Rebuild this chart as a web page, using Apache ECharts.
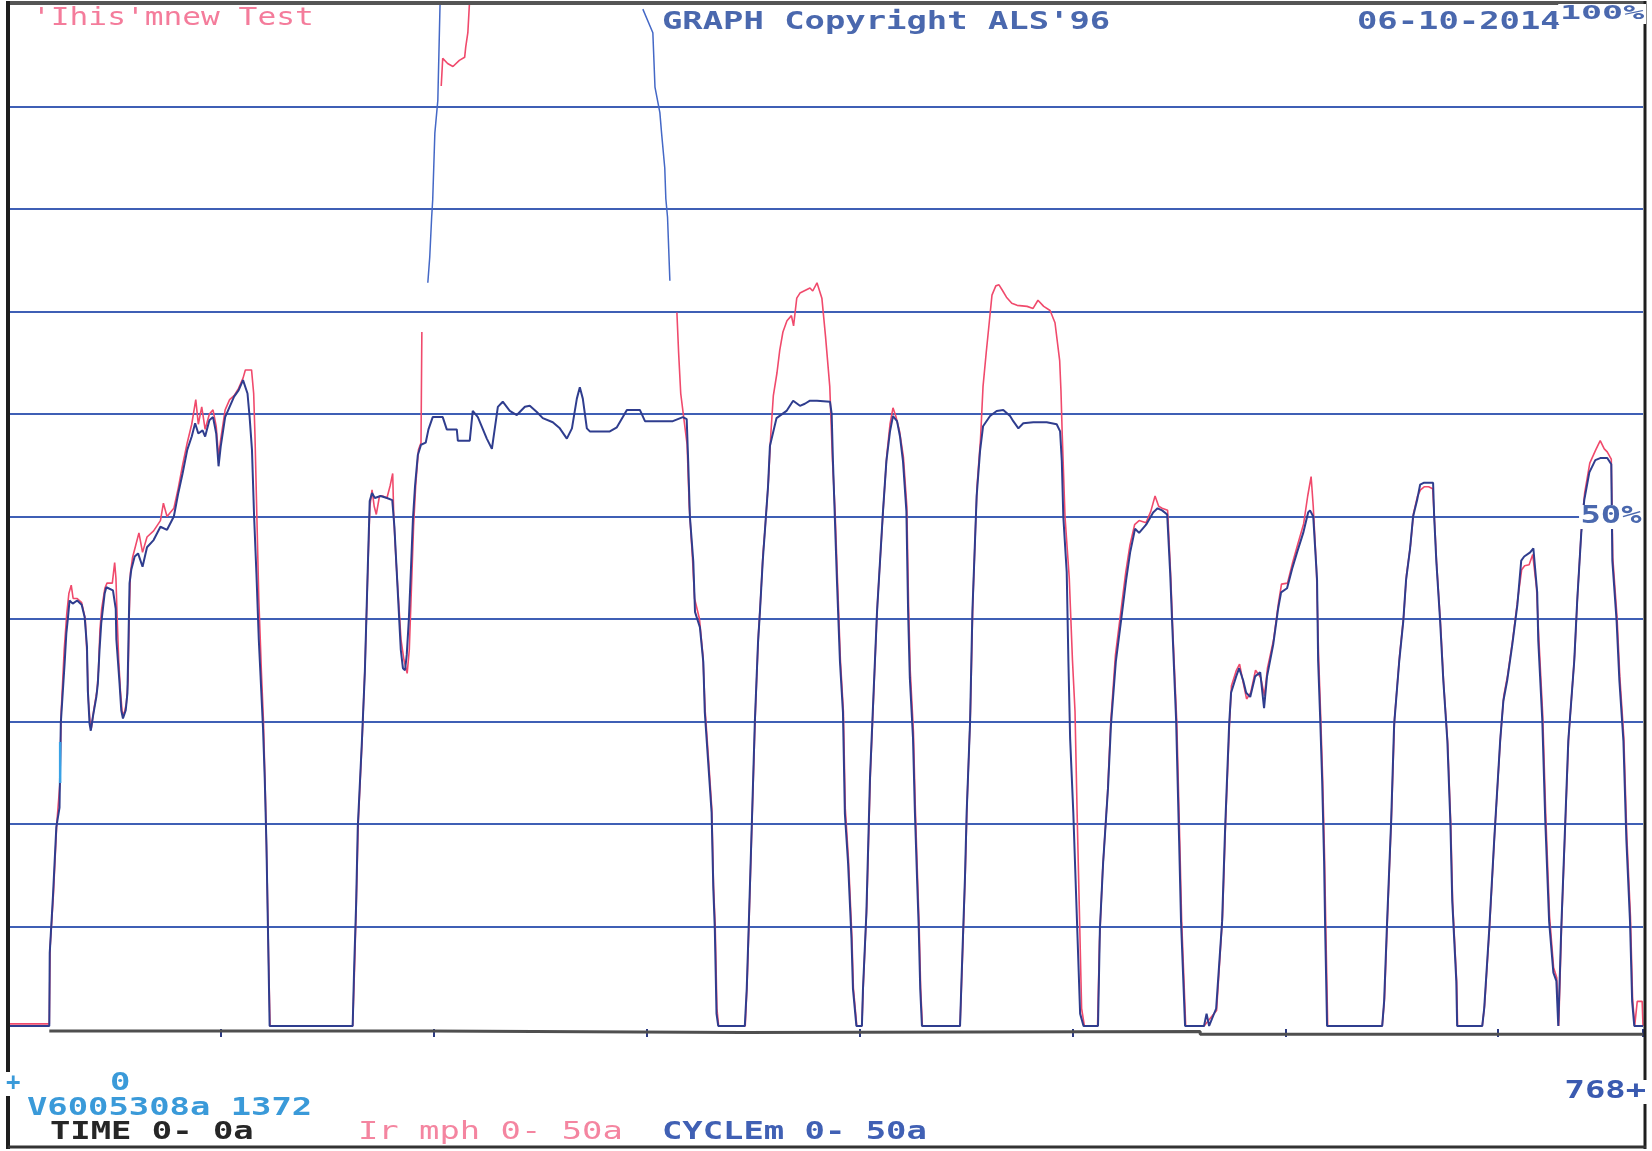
<!DOCTYPE html>
<html>
<head>
<meta charset="utf-8">
<title>GRAPH Copyright ALS'96</title>
<script src="https://cdn.jsdelivr.net/npm/echarts@6/dist/echarts.min.js"></script>
<style>
  html, body { margin: 0; padding: 0; background: #ffffff; }
  #chart { width: 1652px; height: 1151px; }
</style>
</head>
<body>
<div id="chart"></div>
<script>
// Axis ranges: time samples 0..768, channels in % of full scale
const xRange = [0, 768];
const xStep = 100;
const yRange = [0, 100];
const yStep = 10;

// CYCLEm 0- 50a  (navy trace), [sample, %]
const cycleBlue = [
  [0,0.3],[19.4,0.3],[19.6,7.4],[21.1,12.9],[22.7,19.7],[24.2,21.6],[24.8,29.8],[25,30.5],[26.6,35.7],[27.4,38.6],
  [28.2,40.2],[28.9,41.8],[30.4,41.5],[32.5,41.8],[34.6,41.4],[36,40.2],[37.1,37.3],[37.5,33],[38.3,29.8],[38.9,29.1],
  [39.9,30.5],[41.5,32.4],[42.2,33.7],[43,37],[43.8,39.6],[45.4,42.5],[46.2,43.1],[49.3,42.8],[50.6,41],[50.9,38],
  [51.6,36],[52.4,33.7],[53.2,31.1],[54,30.3],[55.3,31.1],[56.1,32.8],[56.5,37],[57.1,43.5],[57.9,44.8],[59.5,46.1],
  [61.1,46.4],[63.2,45.1],[65.3,47],[68.4,47.7],[71.6,49],[74.7,48.7],[77.9,50],[80,52.3],[82,54.2],[84.2,56.5],
  [86.3,57.8],[87.9,59.1],[89.4,58.1],[91.4,58.4],[92.6,57.8],[94.6,59.4],[96.3,59.7],[97.8,58.1],[98.9,54.9],[99.9,56.8],
  [102,59.7],[104.1,60.7],[106.2,61.7],[108.3,62.3],[110.4,63.3],[112.5,62],[113.5,59.7],[114.6,56.5],[115.6,50],[116.7,44.4],
  [117.8,38],[118.5,35],[119.8,29.3],[120.6,24.4],[121.4,17.9],[122.1,9.8],[122.9,0.3],
  [161.9,0.3],[162.6,6],[163.5,12],[164.3,19.7],[166.2,27.9],[167.6,34.7],[169,45],[169.9,51.5],[171,52.3],[172.3,51.8],
  [175,52],[178,51.8],[180.5,51.6],[181.5,49],[182.5,45],[183.5,41],[184.5,37],[185.5,35.2],[186.5,35],[187.3,36.5],
  [188.3,40],[189.3,45],[190.2,49.7],[191.2,53],[192.5,56],[194,57],[196.2,57.2],[197.5,58.5],[199.5,59.7],[204.2,59.7],
  [206.1,58.5],[210.8,58.5],[211.3,57.4],[216.9,57.4],[218.3,60.3],[220.7,59.7],[224.9,57.6],[227.3,56.6],[230.1,60.7],[232.4,61.2],
  [235.7,60.3],[239,59.9],[242.8,60.7],[245.1,60.8],[248.4,60.2],[251.2,59.6],[255.9,59.2],[259.2,58.6],[262.5,57.6],[264.9,58.6],
  [267.2,61.5],[268.6,62.6],[270,61.5],[271.9,58.6],[273.3,58.3],[282.7,58.3],[286,58.7],[288.8,59.7],[290.7,60.4],[296.8,60.4],
  [299.2,59.3],[312.3,59.3],[317,59.7],[318.8,59.5],[319.5,55.4],[320.3,50],[321.9,45.6],[322.7,40.7],[325,39.2],[326.6,35.8],
  [327.3,30.9],[328.9,26],[330.5,21.1],[331.3,13.7],[332,9.8],[332.8,1.5],[333.6,0.3],
  [346.1,0.3],[347,3.9],[347.9,9.8],[349.4,20.1],[350.8,29.9],[352.3,37.7],[353.2,40.7],[354.5,45.6],[355.5,48.5],[357,52.9],
  [357.9,56.9],[359.5,58.3],[361,59.6],[365.7,60.3],[368.8,61.3],[372,60.8],[374.3,61],[376.7,61.3],[380,61.3],[386.1,61.2],
  [386.9,60],[387.5,55.4],[389.4,43.6],[390.8,35.8],[392.2,30.9],[393.1,21],[394.6,16.2],[396.2,8.8],[396.9,3.9],[398.5,0.3],
  [401.1,0.3],[401.6,3.9],[403.2,11.3],[404.9,24.5],[406.5,32.4],[408.2,40.7],[409.6,45.6],[411,50.5],[412.6,55.4],[414.3,58.3],
  [415.7,59.8],[417.6,59.3],[419,57.8],[420.4,55.4],[422,50.5],[422.8,40.7],[423.6,34.3],[425.1,28.4],[426,21.1],[427,14.7],
  [427.8,9.8],[428.5,3.9],[429.3,0.3],
  [447.2,0.3],[447.9,4.9],[449.5,14.7],[450.3,21.1],[451.9,29.9],[453,40.7],[454.2,47.5],[455,52],[456.6,56.4],[458,58.8],
  [461.3,59.8],[464.4,60.3],[467.5,60.4],[470.7,59.8],[472.2,59.3],[474.6,58.6],[476.9,59.1],[481.6,59.2],[487.9,59.2],[492.6,59],
  [494.2,58.3],[495,55.4],[495.7,50],[497.3,44.6],[498.1,35.8],[498.9,28.4],[500.4,21.1],[502,11.3],[503.6,1.5],[505.2,0.3],
  [512,0.3],[512.9,9.8],[514.4,16.2],[516.7,23.5],[518.1,29.7],[520.4,35.9],[522.8,39.8],[525.2,43.8],[527.1,46.5],[529.4,48.8],
  [531.3,48.4],[534.6,49.2],[537.9,50.4],[540,50.8],[542.1,50.6],[544.5,50.2],[545.9,44.5],[546.8,39.8],[548.7,30.1],[550.1,18.4],
  [551,10.5],[552.9,0.3],[561.8,0.3],[563,1.5],[564.2,0.3],[567.5,2],[570.3,10.5],[571.7,19.5],[573.6,29.7],[574.5,32.8],
  [576.9,34.4],[578.3,35.2],[580.2,34],[581.6,32.8],[583.5,32.4],[585.8,34.4],[588.2,34.8],[590,31.3],[591.4,34.4],[594.3,37.5],
  [596.6,41],[598,42.6],[600.8,43],[603.2,44.9],[605.5,46.5],[608.4,48.4],[610.7,50.4],[611.6,50.6],[613.1,50],[614.9,43.8],
  [615.4,35.9],[616.4,30.1],[617.3,24.2],[618.2,16.4],[618.7,9.8],[619.6,0.3],
  [645.5,0.3],[646.4,2.7],[647.8,10.5],[649.7,20.3],[651.1,29.7],[653.5,35.9],[655.4,39.8],[656.7,43.8],[658.6,46.9],[660,50],
  [661.9,51.6],[663.3,53.1],[665.2,53.3],[669.4,53.3],[669.9,50],[670.9,45.7],[672.7,39.8],[674.2,34],[676.1,28.1],[677.5,20.3],
  [678.4,12.5],[680.3,4.7],[680.7,0.3],
  [692.5,0.3],[693.4,2],[695.8,9.8],[698.1,18.4],[700.9,28.1],[702.4,32],[704.2,34],[706.6,37.5],[709,41.4],[710.8,45.7],
  [712.2,46.1],[715,46.5],[716.5,46.9],[718.3,42.6],[718.8,37.9],[720.7,30.1],[722.1,20.3],[723.9,10.5],[725.9,5.5],[727.3,4.7],
  [728.2,0.3],[729.6,9.8],[731.5,20.3],[732.9,28.1],[735.7,35.9],[737.1,41.8],[739,48.4],[740.4,51.6],[742.8,54.3],[745.6,55.5],
  [747.9,55.7],[751.2,55.7],[753.1,55.1],[753.6,45.7],[755.6,39.8],[756.9,34],[758.8,28.1],[760.2,18.4],[761.9,10.5],[762.9,2.7],
  [763.9,0.3],[768,0.3]
];

// Ir mph 0- 50a  (red trace); it runs past full scale in the second block
const irRed = [
  [0,0.5],[19.4,0.5],[19.8,8],[21.3,13],[22.9,20],[24.4,24],[25,31],[26.4,37],[27.6,40.5],[28.6,42.5],
  [29.7,43.3],[30.6,42],[32.5,42],[34.6,41.6],[36.3,40],[37.2,36],[37.8,32],[38.6,29.8],[39.2,29.4],[40.2,31],
  [41.8,33],[42.5,35],[43.2,39],[44,41],[45.5,43],[46.5,43.5],[49,43.5],[50.1,45.5],[50.7,44],[51.3,40],
  [52,36],[52.8,33],[53.6,31],[54.4,30.6],[55.6,31.8],[56.4,34],[56.9,40],[57.5,44.5],[58.5,46],[60,47.2],
  [61.5,48.4],[63.2,46.5],[65.3,48],[68.4,48.6],[71.6,49.6],[73,51.3],[74.7,50],[77.9,50.8],[80,52.8],[82,55],
  [84.2,57.2],[86.3,59],[88.2,61.4],[89.4,59],[91,60.7],[92.6,58.5],[94.6,60],[96.3,60.4],[97.8,58.8],[98.9,55.8],
  [99.9,57.5],[102,60.4],[104.1,61.4],[106.2,61.8],[108.3,62.5],[110.4,63.5],[111.5,64.3],[114.4,64.3],[115.4,62],[116,58],
  [116.9,50],[117.8,42],[118.5,38],[119,35],[120,30],[121,22],[121.8,14],[122.4,7],[123.1,0.3],
  [161.9,0.3],[162.8,6],[163.7,13],[164.5,20],[166.4,28.5],[167.8,36],[169.2,46],[170,51],[171,52.6],[172,51],
  [173,50.2],[174.5,52],[176,52],[178,51.8],[179.5,53],[180.7,54.2],[181.2,50],[182.2,46],[183.4,42],[184.6,38],
  [186,36],[187.5,34.7],[188.5,37],[189.5,43],[190.5,49],[191.5,53],[192.8,56.5],[194,57.2],[194.4,68],['-','-'],
  [203.5,92],[204.2,94.7],[206.5,94.2],[209,93.9],[212,94.5],[214.5,94.8],[215,95.8],[216,97.2],[217,101],['-','-'],
  [314.2,69.9],[315,66],[316,62],[317.5,59.5],[319,57],[320,51],[321.5,46],[322.5,42],[324.8,40],[326.4,36.5],
  [327.5,31],[329,26.5],[330.6,21.5],[331.4,14],[332.2,10],[333,2],[333.8,0.3],
  [346.3,0.3],[347.2,4.5],[348.1,10.5],[349.6,21],[351,30.5],[352.5,38.5],[353.4,41.5],[354.7,46.5],[355.7,49],[357.2,53.5],
  [358.3,58],[359.5,61.8],[361.2,64],[362.5,66.2],[364,68],[365.9,69.1],[368,69.6],[369,68.6],[370.5,71.3],[372,71.8],
  [376.7,72.3],[378,72],[380,72.8],[382.3,71.3],[384,67.6],[386,62.7],[387.3,55.4],[388.5,50.5],[389.6,44],[391,36],
  [392.4,31],[393.3,21.5],[394.8,16.5],[396.4,9],[397.1,4],[398.7,0.3],
  [401.1,0.3],[401.8,4.5],[403.4,12],[405.1,25],[406.7,33],[408.4,41.5],[409.8,46.2],[411.2,51],[412.8,56],[414.3,59],
  [415.7,60.6],[417,59.8],[418.8,58.3],[420.6,55.8],[422.2,51],[423,41.5],[423.8,35],[425.3,29],[426.2,21.5],[427.2,15],
  [428,10],[428.7,4],[429.5,0.3],
  [447.2,0.3],[448.1,5.5],[449.7,15.5],[450.5,22],[452.1,31],[453.2,41.5],[454.4,48.5],[455.2,53],[456.8,57.5],[458,62.7],
  [459.5,66],[461,69.1],[462.2,71.6],[464,72.5],[465.5,72.6],[467,72.1],[469,71.4],[471.5,70.8],[474,70.6],[478.7,70.5],
  [481.5,70.3],[483.8,71.1],[486.5,70.5],[489.5,70.1],[491.8,68.9],[494,65.2],[494.6,62.3],[495.2,58],[496.5,50],[498.5,44],
  [500,36],[501.2,31],[502.2,21],[503.2,12],[504.3,2],[505.6,0.3],
  [511.8,0.3],[512.7,8.5],[514.2,15.5],[516.5,23],[518,30],[520.2,36.5],[522.6,40.5],[525,44.5],[527,47.2],[529.2,49.2],
  [531.3,49.6],[534.6,49.4],[536.8,50.5],[538.8,52],[540.5,51],[542.1,50.8],[544.7,50.6],[546.2,44],[547.1,39],[549,30],
  [550.4,18.4],[551.3,10.5],[553.2,0.3],[561.8,0.3],[567.7,1.8],[570.5,11],[571.9,20],[573.8,30],[574.7,33.5],[577,35],
  [578.5,35.6],[580.4,33.6],[581.8,32.2],[583.7,32.8],[586,35],[588.4,34.3],[590.2,32.5],[591.6,35.2],[594.5,38],[596.8,41.6],
  [598.2,43.4],[601,43.5],[603.4,45.5],[605.7,47.2],[608.6,49.3],[610.5,52],[612.1,53.9],[613.1,51],[614.6,45],[615.6,36.5],
  [616.6,30.5],[617.5,24.6],[618.4,17],[619,10],[619.9,0.3],
  [645.5,0.3],[646.6,3],[648,11],[649.9,21],[651.3,30.3],[653.7,36.5],[655.6,40.3],[656.9,44.3],[658.8,47.2],[660.2,50.3],
  [662.1,52],[663.5,52.6],[665.2,52.9],[667.3,52.9],[669.2,52.7],[670.1,49.5],[671.1,45.3],[672.9,39.5],[674.4,33.6],[676.3,27.8],
  [677.7,20],[678.6,12.3],[680.5,4.5],[680.9,0.3],
  [692.5,0.3],[693.6,2.3],[696,10.2],[698.3,19],[701.1,28.6],[702.6,32.5],[704.4,34.5],[706.8,38],[709.2,42],[711,44.8],
  [712.4,45.2],[714.5,45.3],[716.2,46.3],[718,43],[719,38.4],[720.9,30.6],[722.3,21],[724.1,11],[726,6],[727.5,5],
  [728.4,0.3],[729.8,10.5],[731.7,21],[733.1,28.6],[735.9,36.5],[737.3,42.5],[739.2,49.2],[740.6,52.3],[743,55.2],[745.8,56.5],
  [747.9,57.4],[749.8,56.6],[751.2,56.3],[753.1,55.6],[753.8,46],[755.8,40.2],[757.1,34.4],[759,28.4],[760.4,18.8],[762.1,11],
  [763.1,3],[764.1,0.3],[765.3,2.7],[767.6,2.7],[768,0.3]
];

// Third pen: thin trace that leaves the top of the scale and comes back
const overRange = [
  [197.2,72.8],[198.1,75.3],[199,79.2],[199.5,80.9],[200.5,87.4],[201.9,90.6],[203,100.5],['-','-'],
  [298.2,99.5],[302.9,97.2],[303.9,91.9],[306.2,89.4],[307,87.4],[308.5,84],[309,81],[309.8,79.2],[310.9,73]
];

// Short start marker
const startMark = [[24.5,24],[24.5,28]];

// TIME 0- 0a  (base pen, sits on zero)
const timeBase = [
  [19.4,-0.2],[198,-0.2],[198,-0.35],[345,-0.35],[345,-0.25],[560,-0.25],[560,-0.5],[768,-0.5]
];

// Header / footer texts
const titleText = "'Ihis'mnew Test";
const headerText = "GRAPH Copyright ALS'96";
const dateText = "06-10-2014";
const topScale = "100%";
const midScale = "50%";
const startCode = "V6005308a 1372";
const xStartLabel = "0";
const xEndLabel = "768+";
const legendTime = "TIME 0- 0a";
const legendIr = "Ir mph 0- 50a";
const legendCycle = "CYCLEm 0- 50a";

const MONO = '"DejaVu Sans Mono", "Liberation Mono", monospace';
function label(text, x, y, color, o) {
  o = o || {};
  const size = o.size || 24;
  return {
    type: 'text', x: x, y: y, z: 100,
    scaleX: o.sx || 1.41,
    style: {
      text: text, fill: color,
      font: (o.weight || 'bold') + ' ' + size + 'px ' + MONO,
      textAlign: o.align || 'left', align: o.align || 'left',
      textVerticalAlign: 'middle', verticalAlign: 'middle',
      opacity: o.opacity == null ? 1 : o.opacity,
      backgroundColor: o.bg, padding: o.bg ? [0, 1] : 0
    }
  };
}
function rule(x1, y1, x2, y2, color, w) {
  return { type: 'line', z: 90, shape: { x1: x1, y1: y1, x2: x2, y2: y2 }, style: { stroke: color, lineWidth: w } };
}

const gridBlue = '#3f5fb5';
const splitColors = ['rgba(0,0,0,0)'];
for (let v = yRange[0] + yStep; v < yRange[1]; v += yStep) splitColors.push(gridBlue);
splitColors.push('rgba(0,0,0,0)');

const chart = echarts.init(document.getElementById('chart'), null, { renderer: 'canvas' });
chart.setOption({
  animation: false,
  backgroundColor: '#ffffff',
  grid: { left: 8, right: 9, top: 4, bottom: 122, containLabel: false },
  xAxis: {
    type: 'value', min: xRange[0], max: xRange[1], interval: xStep,
    axisLine: { show: false },
    axisTick: { show: true, inside: false, length: 8, lineStyle: { color: '#2c3a82', width: 2 } },
    axisLabel: { show: false },
    splitLine: { show: false }
  },
  yAxis: {
    type: 'value', min: yRange[0], max: yRange[1], interval: yStep,
    axisLine: { show: false }, axisTick: { show: false }, axisLabel: { show: false },
    splitLine: { show: true, lineStyle: { color: splitColors, width: 2 } }
  },
  series: [
    { name: 'TIME', type: 'line', data: timeBase, showSymbol: false, clip: false, z: 1,
      lineStyle: { color: '#4f4f4f', width: 3 } },
    { name: 'Ir mph', type: 'line', data: irRed, showSymbol: false, connectNulls: false, z: 2,
      lineStyle: { color: '#f04a6c', width: 1.6 } },
    { name: 'over', type: 'line', data: overRange, showSymbol: false, connectNulls: false, z: 2,
      lineStyle: { color: '#4468c6', width: 1.5 } },
    { name: 'CYCLEm', type: 'line', data: cycleBlue, showSymbol: false, z: 3,
      lineStyle: { color: '#2f3d8e', width: 2 } },
    { name: 'mark', type: 'line', data: startMark, showSymbol: false, z: 4,
      lineStyle: { color: '#38a2e6', width: 2.5 } }
  ],
  graphic: [
    // outer frame
    rule(8, 3, 1646, 3, '#555555', 4),
    rule(8, 1, 8, 1072, '#1e1e1e', 4),
    rule(8, 1096, 8, 1149, '#1e1e1e', 4),
    rule(1645, 1, 1645, 1080, '#1e1e1e', 3),
    rule(1645, 1104, 1645, 1149, '#1e1e1e', 3),
    rule(8, 1147, 1646, 1147, '#333333', 3),
    // header
    label(titleText, 32, 19, '#f0507a', { weight: 'normal', opacity: 0.75, sx: 1.3 }),
    label(headerText, 662, 23, '#4a68ae'),
    label(dateText, 1357, 23, '#4a68ae'),
    label(topScale, 1646, 14, '#4a68ae', { size: 20, sx: 1.75, align: 'right', bg: '#ffffff' }),
    label(midScale, 1643, 517, '#4a68ae', { align: 'right', bg: '#ffffff' }),
    // footer
    label('+', 6, 1084, '#3a9ad9', { sx: 1.0 }),
    label(xStartLabel, 110, 1084, '#3a9ad9'),
    label(xEndLabel, 1646, 1092, '#3a5ab0', { align: 'right' }),
    label(startCode, 27, 1109, '#3a9ad9'),
    label(legendTime, 50, 1133, '#262626'),
    label(legendIr, 358, 1133, '#f2708f', { weight: 'normal', opacity: 0.85 }),
    label(legendCycle, 662, 1133, '#4060b4')
  ]
});
</script>
</body>
</html>
